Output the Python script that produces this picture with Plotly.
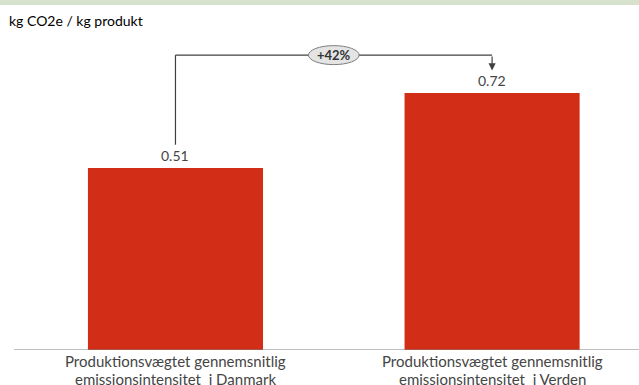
import plotly.graph_objects as go

# Emission intensities (kg CO2e per kg product)
category_lines = [
    ["Produktionsvægtet gennemsnitlig", "emissionsintensitet  i Danmark"],
    ["Produktionsvægtet gennemsnitlig", "emissionsintensitet  i Verden"],
]
values = [0.51, 0.72]
value_labels = ["0.51", "0.72"]
change_label = "+42%"
unit_title = "kg CO2e / kg produkt"

BAR_COLOR = "#D22E17"
TEXT_COLOR = "#454545"
FONT = "Lato"

W, H = 639, 385
M_L, M_R, M_T, M_B = 14, 0, 40, 35
plot_h = H - M_T - M_B
PX_PER_UNIT = 357

x_pos = list(range(len(values)))

fig = go.Figure()
fig.add_trace(go.Bar(
    x=x_pos, y=values, width=0.553,
    marker=dict(color=BAR_COLOR, line=dict(width=0)),
    hoverinfo="skip",
))

annotations = []
# value labels above bars
for xi, v, lab in zip(x_pos, values, value_labels):
    annotations.append(dict(
        x=xi, y=v, xref="x", yref="y", text=lab, showarrow=False,
        yanchor="bottom", yshift=2,
        font=dict(family=FONT, size=14, color=TEXT_COLOR),
    ))
# category labels below the baseline, one annotation per line
for xi, lines in zip(x_pos, category_lines):
    for i, line in enumerate(lines):
        annotations.append(dict(
            x=xi, y=0, xref="x", yref="y", text=line, showarrow=False,
            yanchor="middle", yshift=-(11 + 18 * i),
            font=dict(family=FONT, size=15, color=TEXT_COLOR),
        ))

# bracket connecting the two bars
y_top = 0.826
y_start = values[0] + 0.065
y_tip = values[1] + 0.063
ell_half_h = 9.5 / PX_PER_UNIT
shapes = [
    dict(type="line", xref="x", yref="y", x0=x_pos[0], x1=x_pos[0],
         y0=y_start, y1=y_top, line=dict(color="#404040", width=1.2)),
    dict(type="line", xref="x", yref="y", x0=x_pos[0], x1=x_pos[1],
         y0=y_top, y1=y_top, line=dict(color="#404040", width=1.2)),
    dict(type="circle", xref="x", yref="y", x0=0.42, x1=0.58,
         y0=y_top - ell_half_h, y1=y_top + ell_half_h,
         fillcolor="#E4E4E4", line=dict(color="#7F7F7F", width=1)),
    # baseline
    dict(type="line", xref="paper", yref="y", x0=0, x1=1, y0=0, y1=0,
         line=dict(color="#808080", width=1.2)),
    # header band
    dict(type="rect", xref="paper", yref="paper", x0=-M_L / (W - M_L), x1=1,
         y0=1 + (M_T - 5) / plot_h, y1=1 + M_T / plot_h,
         fillcolor="#D6E2CD", line=dict(width=0), layer="below"),
]
# arrow down to the second bar
annotations.append(dict(
    x=x_pos[1], y=y_tip, ax=x_pos[1], ay=y_top, xref="x", yref="y",
    axref="x", ayref="y", text="", showarrow=True,
    arrowhead=2, arrowsize=1.2, arrowwidth=1.2, arrowcolor="#404040",
))
annotations.append(dict(
    x=0.5, y=y_top, xref="x", yref="y", text="<b>" + change_label + "</b>",
    showarrow=False, font=dict(family=FONT, size=13, color="#333333"),
))
# unit title
annotations.append(dict(
    x=-M_L / (W - M_L) + 7 / (W - M_L), y=1 + (M_T - 20) / plot_h,
    xref="paper", yref="paper", text=unit_title, showarrow=False,
    xanchor="left", yanchor="middle",
    font=dict(family=FONT, size=14, color="#000000"),
))

fig.update_layout(
    width=W, height=H,
    margin=dict(l=M_L, r=M_R, t=M_T, b=M_B),
    paper_bgcolor="white", plot_bgcolor="white",
    showlegend=False,
    xaxis=dict(range=[-0.510, 1.464], visible=False, fixedrange=True),
    yaxis=dict(range=[0, plot_h / PX_PER_UNIT], visible=False, fixedrange=True),
    shapes=shapes, annotations=annotations,
)

fig.write_html("out.html")
